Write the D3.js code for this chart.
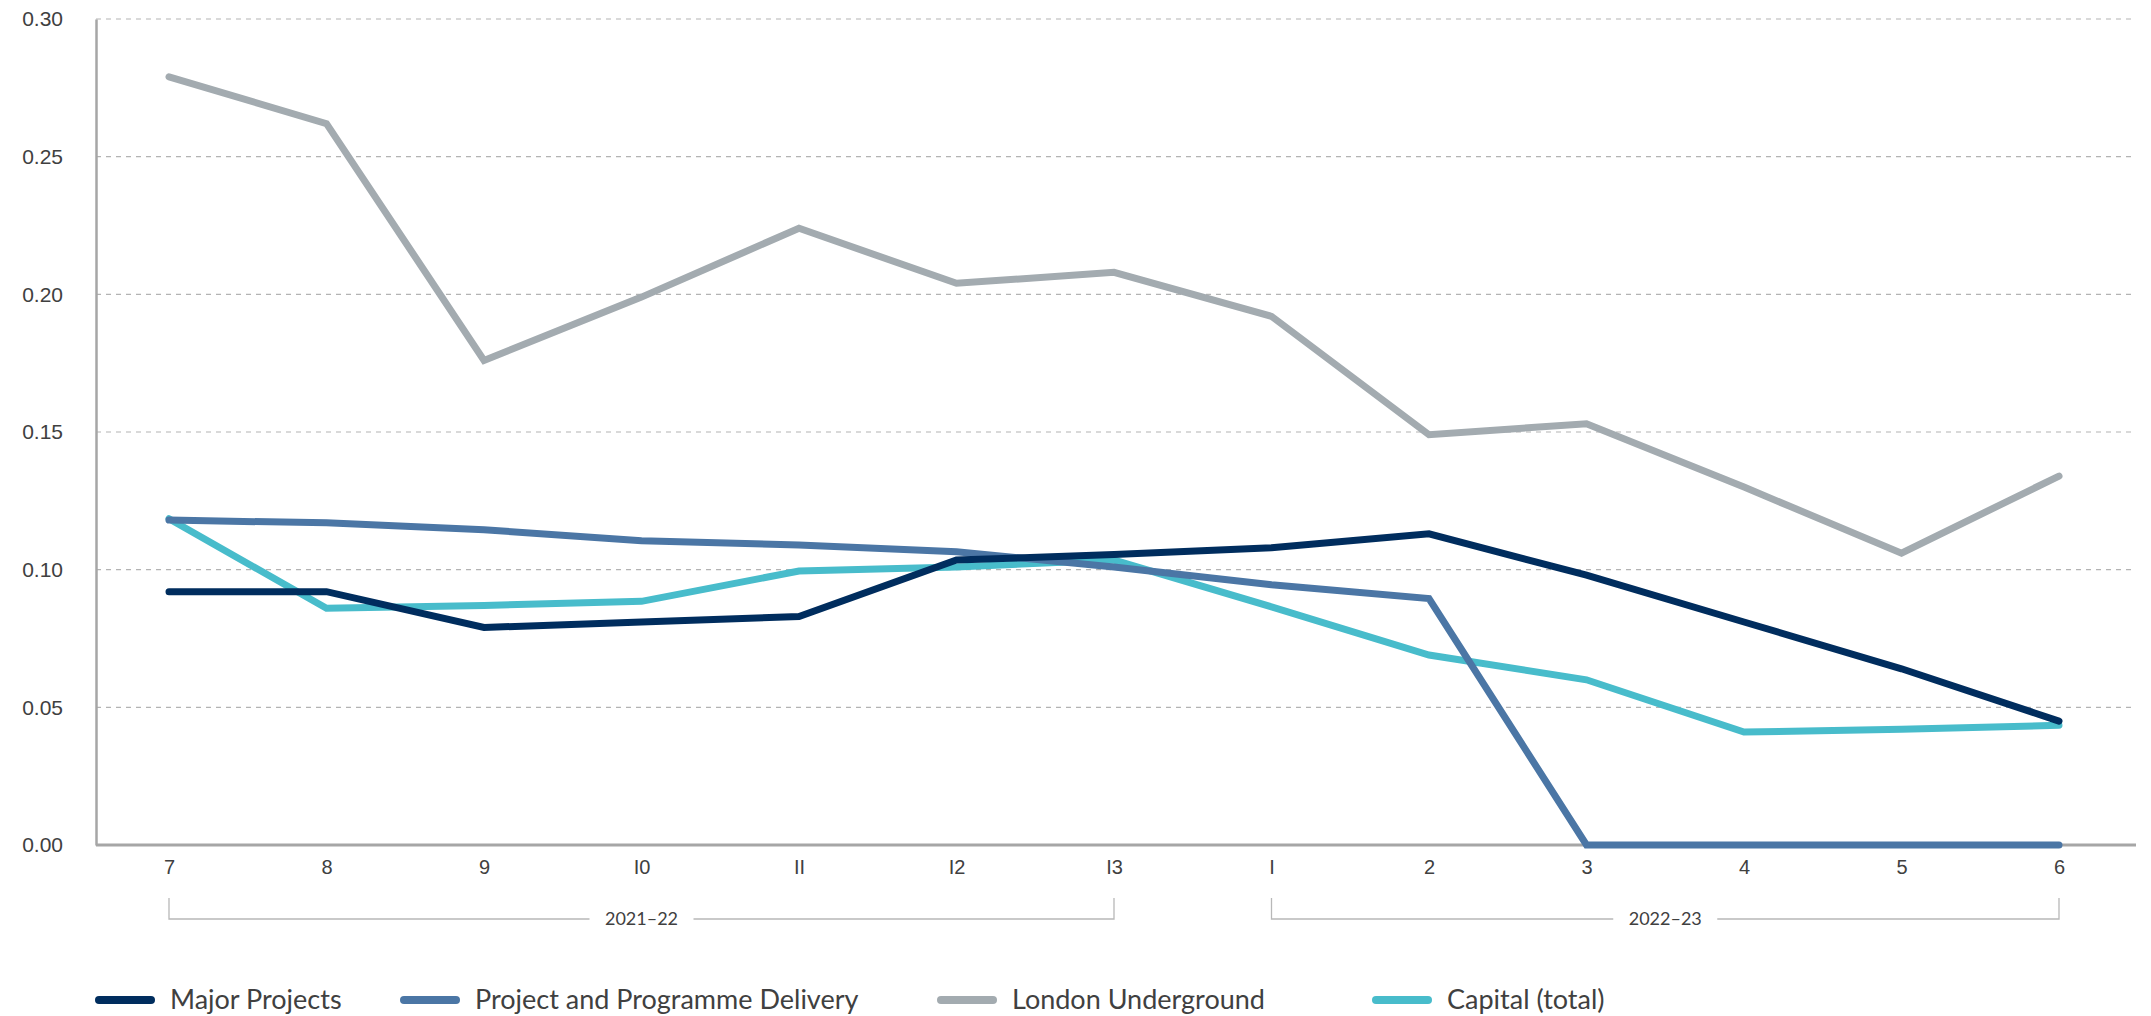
<!DOCTYPE html>
<html>
<head>
<meta charset="utf-8">
<script src="https://cdn.jsdelivr.net/npm/d3@7"></script>
<style>
  body { margin: 0; background: #fff; }
  svg { display: block; font-family: Lato, "Open Sans", sans-serif; }
  .tick text { fill: #404040; }
</style>
</head>
<body>
<svg id="chart" width="2151" height="1016"></svg>
<script>
var periods = ['7', '8', '9', '10', '11', '12', '13', '1', '2', '3', '4', '5', '6'];
var tickLabels = ['7', '8', '9', 'I0', 'II', 'I2', 'I3', 'I', '2', '3', '4', '5', '6'];
var yTicks = [0, 0.05, 0.10, 0.15, 0.20, 0.25, 0.30];

var majorProjects = [0.092, 0.092, 0.079, 0.081, 0.083, 0.1035, 0.1055, 0.108, 0.113, 0.098, 0.081, 0.064, 0.045];
var programmeDelivery = [0.118, 0.117, 0.1145, 0.1105, 0.109, 0.1065, 0.101, 0.0945, 0.0895, 0, 0, 0, 0];
var londonUnderground = [0.279, 0.262, 0.176, 0.199, 0.224, 0.204, 0.208, 0.192, 0.149, 0.153, 0.130, 0.106, 0.134];
var capitalTotal = [0.1185, 0.086, 0.087, 0.0885, 0.0995, 0.101, 0.1035, 0.0865, 0.069, 0.060, 0.041, 0.042, 0.0435];

var years = [
  { label: '2021–22', from: '7', to: '13' },
  { label: '2022–23', from: '1', to: '6' }
];

// bottom to top drawing order
var series = [
  { name: 'London Underground', values: londonUnderground, color: '#a3abb0' },
  { name: 'Capital (total)', values: capitalTotal, color: '#48bccb' },
  { name: 'Project and Programme Delivery', values: programmeDelivery, color: '#4b76a5' },
  { name: 'Major Projects', values: majorProjects, color: '#002d5e' }
];
var legendOrder = ['Major Projects', 'Project and Programme Delivery', 'London Underground', 'Capital (total)'];

var svg = d3.select('#chart');
// note: "top" is taken by window.top, so plot edges get their own names
var plotLeft = 96, plotRight = 2136, plotTop = 19, plotBottom = 845;

var x = d3.scalePoint().domain(periods).range([169, 2059]);
var y = d3.scaleLinear().domain([0, 0.30]).range([plotBottom, plotTop]);

// grid lines
svg.append('g')
  .selectAll('line')
  .data(yTicks.filter(d => d > 0))
  .enter()
  .append('line')
    .attr('x1', plotLeft).attr('x2', plotRight)
    .attr('y1', d => y(d)).attr('y2', d => y(d))
    .attr('stroke', '#b3b3b3')
    .attr('stroke-width', 1.2)
    .attr('stroke-dasharray', '5,5');

// y axis
var yAxis = svg.append('g')
  .attr('transform', `translate(${plotLeft},0)`)
  .call(d3.axisLeft(y).tickValues(yTicks).tickFormat(d3.format('.2f')).tickSize(0).tickPadding(33));
yAxis.select('.domain').attr('stroke', '#a6a6a6').attr('stroke-width', 2.5);
yAxis.selectAll('text').style('font-size', '21px');

// x axis
var xAxis = svg.append('g')
  .attr('transform', `translate(0,${plotBottom})`)
  .call(d3.axisBottom(x).tickFormat((d, i) => tickLabels[i]).tickSize(0).tickPadding(15));
xAxis.select('.domain')
  .attr('d', `M${plotLeft},0H${plotRight}`)
  .attr('stroke', '#a6a6a6').attr('stroke-width', 3);
xAxis.selectAll('text').style('font-size', '20px');

// year brackets
var bracketTop = 898, bracketY = 919;
years.forEach(function(yr) {
  var x0 = x(yr.from), x1 = x(yr.to), mid = (x0 + x1) / 2, gap = 52;
  var g = svg.append('g').attr('fill', 'none').attr('stroke', '#b8b8b8').attr('stroke-width', 1.3);
  g.append('path').attr('d', `M${x0},${bracketTop}V${bracketY}H${mid - gap}`);
  g.append('path').attr('d', `M${mid + gap},${bracketY}H${x1}V${bracketTop}`);
  svg.append('text')
    .attr('x', mid).attr('y', bracketY)
    .attr('dy', '0.35em')
    .attr('text-anchor', 'middle')
    .attr('fill', '#404040')
    .style('font-size', '18px')
    .text(yr.label);
});

// lines
var line = d3.line()
  .x((d, i) => x(periods[i]))
  .y(d => y(d));

svg.append('g')
  .selectAll('path')
  .data(series)
  .enter()
  .append('path')
    .attr('d', d => line(d.values))
    .attr('fill', 'none')
    .attr('stroke', d => d.color)
    .attr('stroke-width', 7)
    .attr('stroke-linecap', 'round')
    .attr('stroke-linejoin', 'miter');

// legend
var legendX = [96, 401, 938, 1373];
var legend = svg.append('g')
  .selectAll('g')
  .data(legendOrder.map(n => series.find(s => s.name === n)))
  .enter()
  .append('g')
    .attr('transform', (d, i) => `translate(${legendX[i]},1000)`);
legend.append('line')
  .attr('x1', 3).attr('x2', 55)
  .attr('stroke', d => d.color)
  .attr('stroke-width', 8)
  .attr('stroke-linecap', 'round');
legend.append('text')
  .attr('x', 74)
  .attr('dy', '0.35em')
  .attr('fill', '#404040')
  .style('font-size', '27px')
  .text(d => d.name);
</script>
</body>
</html>
